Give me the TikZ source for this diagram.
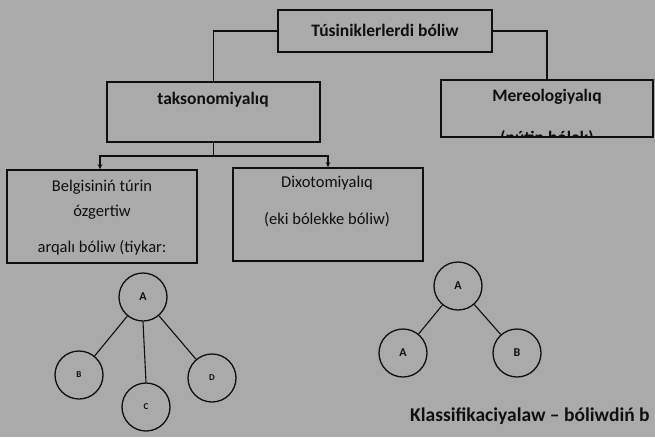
\documentclass[tikz,border=0pt]{standalone}
\usepackage{fontspec}
\setmainfont{Carlito}
\usetikzlibrary{arrows.meta}
\definecolor{bgray}{RGB}{170,170,170}
\definecolor{ink}{RGB}{15,15,15}
\begin{document}
\begin{tikzpicture}[x=1pt,y=-1pt,
  box/.style={draw=ink,line width=1.6pt,rectangle,inner sep=0pt},
  txt/.style={inner sep=0pt,text=ink,font=\fontsize{16.5}{19}\selectfont},
  btxt/.style={inner sep=0pt,text=ink,font=\fontsize{17.5}{20}\selectfont\bfseries},
  conn/.style={draw=ink,line width=1.5pt},
  arr/.style={conn,-{Stealth[length=5pt,width=4.5pt]}},
  circ/.style={draw=ink,line width=1.3pt,circle,minimum size=48pt,inner sep=0pt,text=ink,font=\fontsize{12}{14}\selectfont\bfseries},
  scirc/.style={circ,font=\fontsize{9}{10}\selectfont\bfseries},
  edge/.style={draw=ink,line width=1.1pt}]
\fill[bgray] (0,0) rectangle (655,437);
\useasboundingbox (0,0) rectangle (655,437);
% boxes
\node[box,minimum width=214pt,minimum height=42pt] (top) at (385,31) {};
\node[box,minimum width=213pt,minimum height=60pt] (tax) at (213.5,112) {};
\node[box,minimum width=212pt,minimum height=57pt] (mer) at (547,108.5) {};
\node[box,minimum width=190pt,minimum height=93pt] (bel) at (102,216.5) {};
\node[box,minimum width=190pt,minimum height=93pt] (dix) at (328,214.5) {};
% texts
\node[btxt] (ttop) at (385,30) {Túsiniklerlerdi bóliw};
\node[btxt] (ttax) at (213,100) {taksonomiyalıq};
\node[btxt] (tmer) at (547,97) {Mereologiyalıq};
\begin{scope}
\clip (mer.south west) rectangle (mer.north east);
\node[btxt,anchor=base] (tmer2) at (547,143) {(pútin bólek)};
\end{scope}
\node[txt] (tbel1) at (102,187) {Belgisiniń túrin};
\node[txt] (tbel2) at (102,212) {ózgertiw};
\node[txt] (tbel3) at (102,248) {arqalı bóliw (tiykar:};
\node[txt] (tdix1) at (327,183) {Dixotomiyalıq};
\node[txt] (tdix2) at (327,220) {(eki bólekke bóliw)};
% connectors
\draw[conn] (top.west) -| (tax.north);
\draw[conn] (top.east) -| (mer.north);
\draw[conn] (tax.south) -- ++(0,13) coordinate (j);
\draw[arr] (j) -| ([xshift=-2pt]bel.north);
\draw[arr] (j) -| (dix.north);
% left tree
\node[circ] (a1) at (143,297) {A};
\node[scirc] (b1) at (79,375) {B};
\node[scirc] (c1) at (146,407) {C};
\node[scirc] (d1) at (212,378) {D};
\draw[edge] (a1) -- (b1);
\draw[edge] (a1.south) -- (c1.north);
\draw[edge] (a1) -- (d1);
% right tree
\node[circ] (a2) at (458,286) {A};
\node[circ] (a3) at (403,353) {A};
\node[circ] (b2) at (517,353) {B};
\draw[edge] (a2) -- (a3);
\draw[edge] (a2) -- (b2);
% caption
\node[btxt,anchor=base west,font=\fontsize{19.5}{22}\selectfont\bfseries] (cap) at (410,421) {Klassifikaciyalaw – bóliwdiń b};
\end{tikzpicture}
\end{document}
